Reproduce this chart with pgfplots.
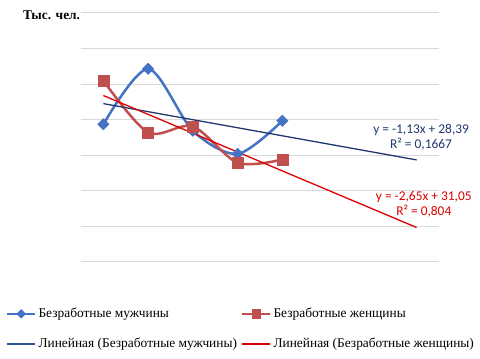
\documentclass[border=0pt]{standalone}
\usepackage{fontspec}
\setmainfont{Liberation Serif}
\newfontfamily\calibri{Carlito}
\usepackage{pgfplots}
\pgfplotsset{compat=1.18}
\definecolor{menblue}{RGB}{68,114,196}
\definecolor{womred}{RGB}{192,80,77}
\definecolor{navy}{RGB}{32,56,110}
\definecolor{navyleg}{RGB}{47,85,151}
\definecolor{trendred}{RGB}{220,0,0}
\definecolor{gridgray}{RGB}{217,217,217}
\begin{document}
\begin{tikzpicture}
\useasboundingbox (0,0) rectangle (480pt,359pt);
\node[anchor=west,inner sep=0pt,font=\bfseries\fontsize{13.4}{15}\selectfont] at (23pt,344pt) {Тыс. чел.};
\begin{axis}[at={(81pt,97pt)}, anchor=south west, scale only axis, width=358pt, height=249pt,
  xmin=0.5, xmax=8.5, ymin=5, ymax=40, ytick={5,10,...,40}, yticklabels={}, xtick=\empty,
  ymajorgrids, major grid style={gridgray, line width=1pt}, axis line style={draw=none},
  major tick length=0pt, clip=false,
  legend columns=2, legend cell align=left,
  legend style={draw=none, fill=none, at={(axis description cs:-0.21,-0.177)}, anchor=north west,
    font=\fontsize{13.4}{15}\selectfont, row sep=15pt, inner sep=0pt,
    /tikz/every even column/.append style={column sep=2pt}},
]
\addplot[menblue, line width=2.5pt, smooth, mark=square*, mark size=4pt, mark options={rotate=45, solid, fill=menblue, line width=0.5pt},
  legend image code/.code={\draw[menblue, line width=2.5pt] (0pt,0pt) -- (28pt,0pt);
    \fill[menblue] (14pt,-3pt) -- (17pt,0pt) -- (14pt,3pt) -- (11pt,0pt) -- cycle;}]
  coordinates {(1,24.35) (2,32.15) (3,23.45) (4,20.2) (5,24.85)};
\addlegendentry{Безработные мужчины}
\addplot[womred, line width=2.5pt, smooth, mark=square*, mark size=5.5pt, mark options={solid, fill=womred, line width=0.5pt},
  legend image code/.code={\draw[womred, line width=2.5pt] (0pt,0pt) -- (28pt,0pt);
    \fill[womred] (10.5pt,-3.5pt) rectangle (17.5pt,3.5pt);}]
  coordinates {(1,30.5) (2,23.2) (3,24.05) (4,18.95) (5,19.4)};
\addlegendentry{Безработные женщины}
\addplot[navy, line width=1.3pt, mark=none,
  legend image code/.code={\draw[navyleg, line width=1.5pt] (0pt,0pt) -- (28pt,0pt);}]
  coordinates {(1,27.26) (8,19.35)};
\addlegendentry{Линейная (Безработные мужчины)}
\addplot[trendred, line width=1.3pt, mark=none,
  legend image code/.code={\draw[trendred, line width=1.5pt] (0pt,0pt) -- (28pt,0pt);}]
  coordinates {(1,28.40) (8,9.85)};
\addlegendentry{Линейная (Безработные женщины)}
\node[font=\calibri\fontsize{13.4}{15}\selectfont, text=navy, align=center] at (axis cs:8.1,22.5) {y = -1,13x + 28,39\\R² = 0,1667};
\node[font=\calibri\fontsize{13.4}{15}\selectfont, text=trendred, align=center] at (axis cs:8.16,13.1) {y = -2,65x + 31,05\\R² = 0,804};
\end{axis}
\end{tikzpicture}
\end{document}
